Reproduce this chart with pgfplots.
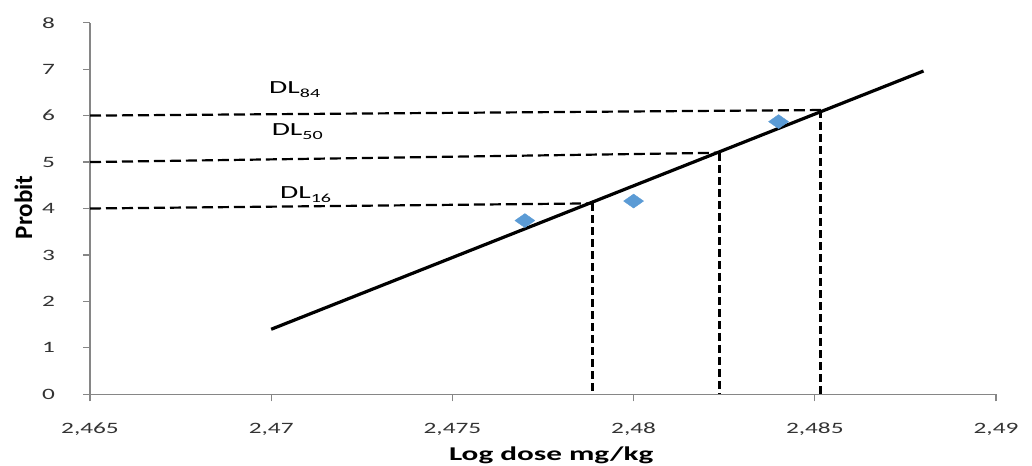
\documentclass[border=0pt]{standalone}
\usepackage{pgfplots}
\pgfplotsset{compat=1.18}
\usepackage{fontspec}
\setmainfont{Carlito}[FakeStretch=1.6]
\newfontfamily\plainfont{Carlito}
\definecolor{axisgray}{HTML}{868686}
\definecolor{ticklab}{HTML}{333333}
\definecolor{ptblue}{HTML}{5B9BD5}
\newcommand\ticksize{\fontsize{15.8bp}{18bp}\selectfont}
\newcommand\dlsize{\fontsize{18.5bp}{20bp}\selectfont}
\newcommand\subsize{\fontsize{12.5bp}{14bp}\selectfont}
\begin{document}
\begin{tikzpicture}
\begin{axis}[
  at={(90bp,71.7bp)}, anchor=south west,
  scale only axis, width=906bp, height=371.6bp,
  xmin=2.465, xmax=2.49, ymin=0, ymax=8,
  axis lines*=left,
  axis line style={color=axisgray, line width=1.2bp, -},
  tick align=outside,
  xtick pos=bottom, ytick pos=left,
  tick style={color=axisgray, line width=1.2bp},
  major tick length=7bp,
  xtick={2.465,2.47,2.475,2.48,2.485,2.49},
  xticklabels={{2,465},{2,47},{2,475},{2,48},{2,485},{2,49}},
  ytick={0,1,2,3,4,5,6,7,8},
  yticklabels={0,1,2,3,4,5,6,7,8},
  scaled x ticks=false,
  tick label style={font=\ticksize, color=ticklab},
  xticklabel style={anchor=base, inner sep=0pt, yshift=-32.7bp},
  yticklabel style={anchor=east, inner sep=0pt, xshift=-28bp},
  xlabel={Log dose mg/kg},
  ylabel={Probit},
  xlabel style={font=\fontsize{19.5bp}{22bp}\selectfont\bfseries, at={(axis description cs:0.509,0)}, anchor=base, yshift=-66.4bp, inner sep=0pt},
  ylabel style={font=\plainfont\fontsize{25bp}{28bp}\selectfont\bfseries, at={(axis description cs:-0.064,0.503)}, anchor=base, inner sep=0pt},
  clip=false,
]
% observed points
\addplot[only marks, mark=diamond*, mark size=7bp, color=ptblue, mark options={xscale=1.9}]
  coordinates {(2.477,3.74) (2.480,4.16) (2.484,5.87)};
% horizontal dashed guides
\addplot[black, line width=2.2bp, dash pattern=on 11bp off 5bp] coordinates {(2.465,4.00) (2.47887,4.11)};
\addplot[black, line width=2.2bp, dash pattern=on 11bp off 5bp] coordinates {(2.465,5.00) (2.48237,5.20)};
\addplot[black, line width=2.2bp, dash pattern=on 11bp off 5bp] coordinates {(2.465,6.00) (2.48517,6.12)};
% vertical dashed guides
\addplot[black, line width=3bp, dash pattern=on 8bp off 4bp] coordinates {(2.47887,4.11) (2.47887,0)};
\addplot[black, line width=3bp, dash pattern=on 8bp off 4bp] coordinates {(2.48237,5.20) (2.48237,0)};
\addplot[black, line width=3bp, dash pattern=on 8bp off 4bp] coordinates {(2.48517,6.12) (2.48517,0)};
% regression line
\addplot[black, line width=3.2bp] coordinates {(2.470,1.40) (2.488,6.96)};
\node[anchor=base west, inner sep=0pt] at (axis cs:2.46994,6.48) {\dlsize DL\raisebox{-4bp}{\subsize 84}};
\node[anchor=base west, inner sep=0pt] at (axis cs:2.47001,5.58) {\dlsize DL\raisebox{-4bp}{\subsize 50}};
\node[anchor=base west, inner sep=0pt] at (axis cs:2.47024,4.22) {\dlsize DL\raisebox{-4bp}{\subsize 16}};
\end{axis}
\pgfresetboundingbox
\path[use as bounding box] (0,0) rectangle (1032bp,466bp);
\end{tikzpicture}
\end{document}
